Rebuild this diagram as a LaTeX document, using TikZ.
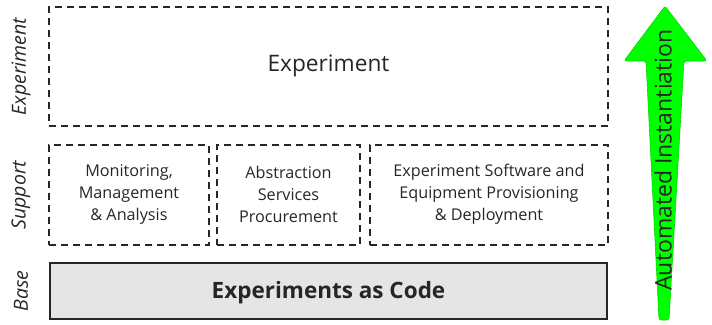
\documentclass[tikz,border=0pt]{standalone}
\usepackage{fontspec}
\setmainfont{Open Sans}
\begin{document}
\begin{tikzpicture}[x=1pt,y=-1pt,
  dbox/.style={draw=black!85,line width=1.3pt,dash pattern=on 7pt off 5pt,inner sep=0pt},
  sidelab/.style={rotate=90,font=\fontsize{19.5}{23}\selectfont\itshape,text=black!85},
  suptext/.style={align=center,font=\fontsize{16.2}{22}\selectfont,text=black!85}]
\useasboundingbox (0,0) rectangle (712,324);
\node[dbox,minimum width=559pt,minimum height=119pt] (exp) at (328.5,66.5) {};
\node[font=\fontsize{22.7}{26}\selectfont,text=black!85] (expt) at (328.5,66) {Experiment};
\node[dbox,minimum width=160pt,minimum height=100pt] (s1) at (129,195) {};
\node[dbox,minimum width=143pt,minimum height=100pt] (s2) at (288.5,195) {};
\node[dbox,minimum width=238pt,minimum height=100pt] (s3) at (489,195) {};
\node[suptext] (t1) at (129,194) {Monitoring,\\Management\\\& Analysis};
\node[suptext] (t2) at (288.5,194) {Abstraction\\Services\\Procurement};
\node[suptext] (t3) at (489,194) {Experiment Software and\\Equipment Provisioning\\\& Deployment};
\node[draw=black!85,line width=2.5pt,fill=black!10,minimum width=557pt,minimum height=56pt,
  font=\fontsize{22.5}{26}\selectfont\bfseries,text=black!85] (base) at (328.5,291) {};
\node[font=\fontsize{22.5}{26}\selectfont\bfseries,text=black!85] (baset) at (328.5,293) {Experiments as Code};
\node[sidelab] (l1) at (21,66.5) {Experiment};
\node[sidelab] (l2) at (21,195) {Support};
\node[sidelab] (l3) at (21,291) {Base};
\fill[green!100,draw=green!85!black,line width=0.6pt,rounded corners=2.5pt]
  (665,6) -- (707,61) -- (684,61) -- (669,320) -- (659,320) -- (646,61) -- (624,61) -- cycle;
\node[rotate=90,font=\fontsize{23}{27}\selectfont,text=black!85] (arr) at (663,160) {Automated Instantiation};
\end{tikzpicture}
\end{document}
